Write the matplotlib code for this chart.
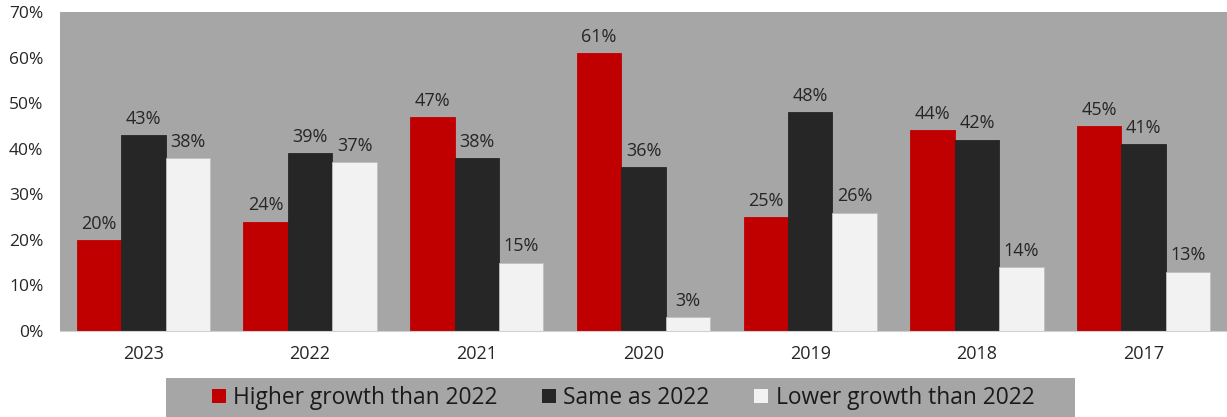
import matplotlib.pyplot as plt
from matplotlib.patches import Rectangle
import numpy as np

plt.rcParams['font.family'] = ['Open Sans', 'DejaVu Sans']

years = ['2023', '2022', '2021', '2020', '2019', '2018', '2017']
higher = [20, 24, 47, 61, 25, 44, 45]
same = [43, 39, 38, 36, 48, 42, 41]
lower = [38, 37, 15, 3, 26, 14, 13]

series_names = ['Higher growth than 2022', 'Same as 2022', 'Lower growth than 2022']
colors = ['#c00000', '#262626', '#f2f2f2']

W, H = 1227, 417
fig = plt.figure(figsize=(W / 100, H / 100), dpi=100)
ax = fig.add_axes([60 / W, 1 - 331 / H, 1167 / W, 319 / H])
ax.set_facecolor('#a6a6a6')

x = np.arange(len(years))
w = 0.8 / 3
handles = []
for i, (vals, col, name) in enumerate(zip([higher, same, lower], colors, series_names)):
    bars = ax.bar(x + (i - 1) * w, vals, width=w, color=col, label=name,
                  edgecolor='#bfbfbf' if i == 2 else col, linewidth=0.6)
    handles.append(bars)
    for xi, v in zip(x + (i - 1) * w, vals):
        ax.text(xi, v + 1.6, '%d%%' % v, ha='center', va='bottom',
                fontsize=13, color='#262626')

ax.set_xlim(-0.5, len(years) - 0.5)
ax.set_ylim(0, 70)
ax.set_yticks(range(0, 71, 10))
ax.set_yticklabels(['%d%%' % t for t in range(0, 71, 10)], fontsize=12.5, color='#262626')
ax.set_xticks(x)
ax.set_xticklabels(years, fontsize=13, color='#262626')
ax.tick_params(axis='both', length=0)
ax.tick_params(axis='x', pad=10)
ax.tick_params(axis='y', pad=12)
for side in ['top', 'right', 'left']:
    ax.spines[side].set_visible(False)
ax.spines['bottom'].set_color('#d0d0d0')

# grey strip behind the legend
fig.patches.append(Rectangle((166 / W, 0), 909 / W, 39 / H, transform=fig.transFigure,
                             facecolor='#a6a6a6', edgecolor='none', zorder=0))

leg = fig.legend(handles=handles, loc='center', ncol=3,
                 bbox_to_anchor=(623 / W, 1 - 398 / H), frameon=False, fontsize=16.4,
                 handlelength=0.62, handleheight=0.62, handletextpad=0.32,
                 columnspacing=1.95, borderpad=0)
for t in leg.get_texts():
    t.set_color('#1a1a1a')
for hnd in leg.legend_handles:
    hnd.set_linewidth(0)

fig.savefig('out.png', dpi=100)
